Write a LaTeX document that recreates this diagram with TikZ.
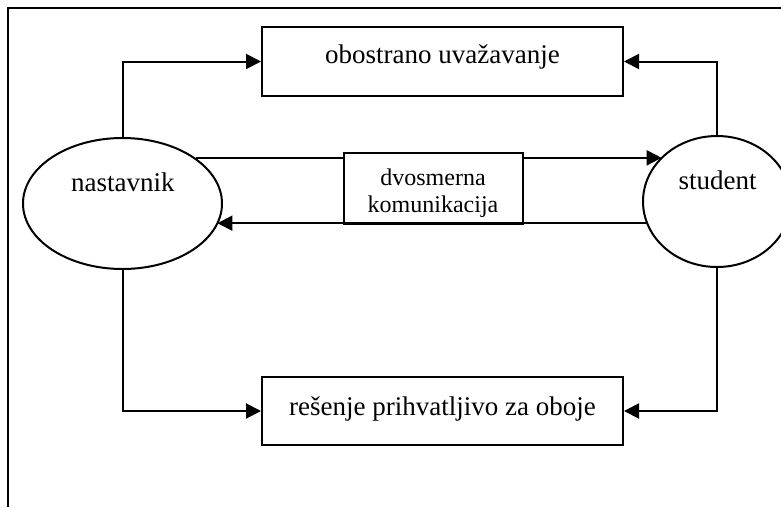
\documentclass[tikz,border=0pt]{standalone}
\usepackage{fontspec}
\setmainfont{Liberation Serif}
\usetikzlibrary{arrows.meta,shapes.geometric}
\begin{document}
\begin{tikzpicture}[x=1pt,y=-1pt,
  ln/.style={line width=2pt},
  arr/.style={ln,-{Triangle[length=15pt,width=15pt]}},
  boxn/.style={draw,ln,rectangle,inner sep=0pt,fill=white},
  ell/.style={draw,ln,ellipse,inner sep=0pt},
  big/.style={font=\fontsize{27}{30}\selectfont,anchor=base,inner sep=0pt},
  small/.style={font=\fontsize{24}{28}\selectfont,anchor=base,inner sep=0pt}]
\useasboundingbox (0,0) rectangle (781,507);
% open frame
\coordinate (fb) at (8,507);
\coordinate (fc) at (8,8);
\coordinate (fr) at (795,8);
\draw[line width=1.8pt] (fb) -- (fc) -- (fr);
% nodes
\node[boxn,minimum width=361pt,minimum height=69pt] (top) at (442.5,61.5) {};
\node[boxn,minimum width=361pt,minimum height=68pt] (bot) at (442.5,411) {};
\node[ell,minimum width=199pt,minimum height=131pt] (nast) at (122.5,203.5) {};
\node[ell,minimum width=148pt,minimum height=131pt] (stud) at (717,201.5) {};
% texts
\node[big] (ttop) at (442.5,63) {obostrano uvažavanje};
\node[big] (tbot) at (442.5,415) {rešenje prihvatljivo za oboje};
\node[big] (tnast) at (122.8,191) {nastavnik};
\node[big] (tstud) at (717.7,189) {student};
% connectors to boxes
\draw[arr] (nast.north) |- (top.west);
\draw[arr] (stud.north) |- (top.east);
\draw[arr] (nast.south) |- (bot.west);
\draw[arr] (stud.south) |- (bot.east);
% two-way communication
\draw[arr] (nast.32.4) -- (nast.32.4 -| stud.141.8);
\node[boxn,minimum width=179pt,minimum height=71pt] (mid) at (433.5,188.5) {};
\node[small] (tm1) at (433,185) {dvosmerna};
\node[small] (tm2) at (433,212) {komunikacija};
\draw[arr] (stud.197.9) -- (stud.197.9 -| nast.347.8);
\end{tikzpicture}
\end{document}
